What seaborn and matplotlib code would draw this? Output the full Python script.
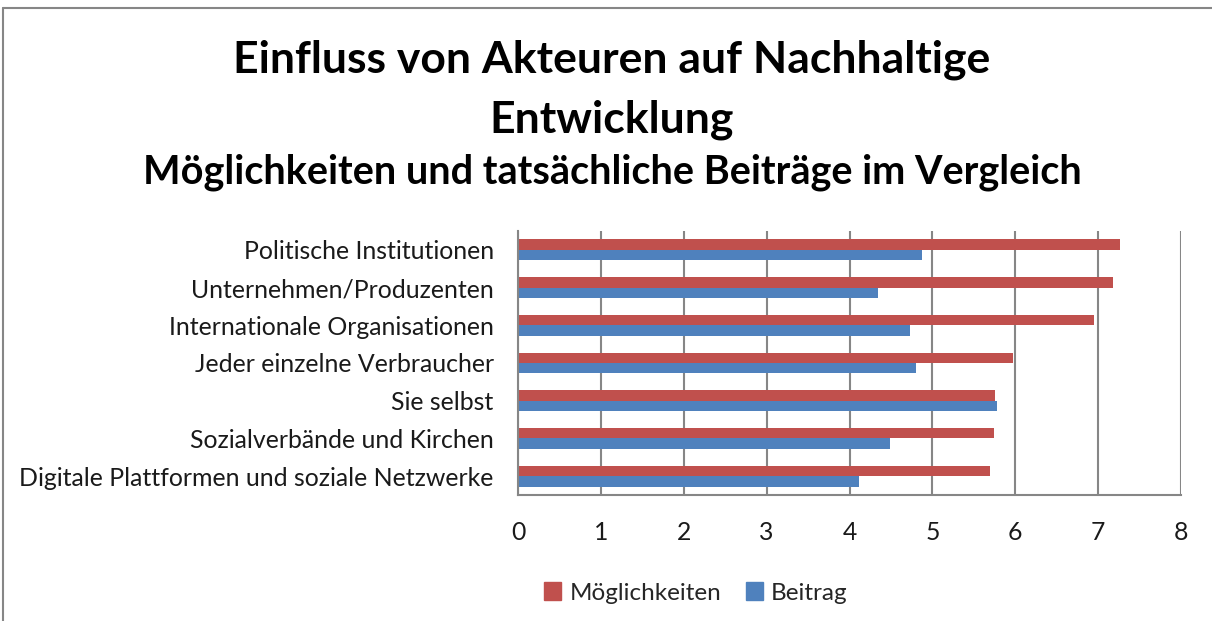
import matplotlib
matplotlib.use("Agg")
import matplotlib.pyplot as plt
import seaborn as sns
import pandas as pd
from matplotlib.lines import Line2D

# data
actors = ["Politische Institutionen", "Unternehmen/Produzenten", "Internationale Organisationen",
          "Jeder einzelne Verbraucher", "Sie selbst", "Sozialverbände und Kirchen",
          "Digitale Plattformen und soziale Netzwerke"]
moeglichkeiten = [7.26, 7.18, 6.95, 5.97, 5.75, 5.74, 5.70]
beitrag = [4.87, 4.34, 4.73, 4.80, 5.78, 4.49, 4.12]
series = ["Möglichkeiten", "Beitrag"]
colors = ["#C0504D", "#4F81BD"]
x_ticks = [0, 1, 2, 3, 4, 5, 6, 7, 8]

df = pd.DataFrame({"Akteur": actors * 2,
                   "Wert": moeglichkeiten + beitrag,
                   "Reihe": [series[0]] * len(actors) + [series[1]] * len(actors)})

sns.set_theme(style="white")
plt.rcParams["font.family"] = ["Lato", "DejaVu Sans"]

fig = plt.figure(figsize=(12.12, 6.21), dpi=100)
ax = fig.add_axes([518 / 1212, 1 - 495 / 621, 663 / 1212, 264 / 621])

sns.barplot(data=df, y="Akteur", x="Wert", hue="Reihe", hue_order=series,
            palette=colors, width=0.55, orient="h", ax=ax, legend=False,
            edgecolor="none", saturation=1)

ax.set_xlim(0, 8)
ax.set_xticks(x_ticks)
ax.set_xticklabels([str(t) for t in x_ticks], fontsize=17.8)
ax.tick_params(axis="y", labelsize=17.9, pad=17.5, length=0, labelcolor="#1a1a1a")
ax.tick_params(axis="x", pad=18.5, length=0, labelcolor="#1a1a1a")
ax.set_xlabel("")
ax.set_ylabel("")
ax.grid(axis="x", color="#868686", linewidth=1.5)
ax.set_axisbelow(True)
for side in ["top", "right"]:
    ax.spines[side].set_visible(False)
for side in ["left", "bottom"]:
    ax.spines[side].set_color("#868686")
    ax.spines[side].set_linewidth(1.5)

# titles
fig.text(0.505, 1 - 60 / 621, "Einfluss von Akteuren auf Nachhaltige", ha="center", va="center",
         fontsize=32, fontweight="bold", color="black")
fig.text(0.505, 1 - 120 / 621, "Entwicklung", ha="center", va="center",
         fontsize=32, fontweight="bold", color="black")
fig.text(0.505, 1 - 172 / 621, "Möglichkeiten und tatsächliche Beiträge im Vergleich",
         ha="center", va="center", fontsize=28.5, fontweight="bold", color="black")

# legend
handles = [plt.Rectangle((0, 0), 1, 1, color=c) for c in colors]
fig.legend(handles, series, loc="center", bbox_to_anchor=(696 / 1212, 1 - 593 / 621),
           ncol=2, frameon=False, fontsize=17.5, handlelength=0.7, handleheight=0.7,
           handletextpad=0.35, columnspacing=1.0)

# chart frame (left and top edges)
fig.add_artist(Line2D([3 / 1212, 3 / 1212], [0, 1 - 8 / 621], color="#868686", linewidth=1.5))
fig.add_artist(Line2D([3 / 1212, 1], [1 - 8 / 621, 1 - 8 / 621], color="#868686", linewidth=1.5))

fig.savefig("out.png", dpi=100)
